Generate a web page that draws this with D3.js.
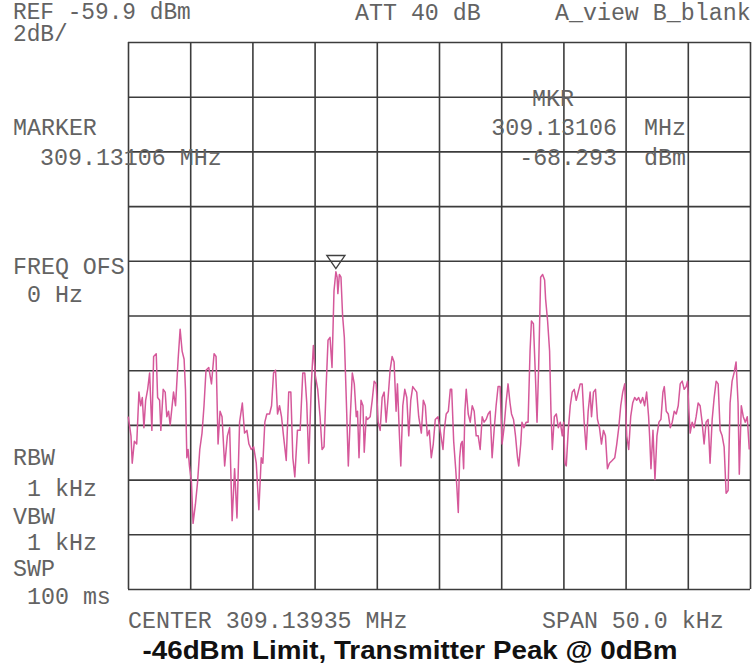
<!DOCTYPE html>
<html>
<head>
<meta charset="utf-8">
<script src="https://cdn.jsdelivr.net/npm/d3@7"></script>
<style>
  html, body { margin: 0; padding: 0; background: #ffffff; }
  svg { display: block; }
  .inst { font-family: "Liberation Mono", "DejaVu Sans Mono", monospace; font-size: 23.3px; fill: #636363; }
  .title { font-family: "Liberation Sans", Arial, sans-serif; font-weight: bold; font-size: 26.5px; fill: #111; }
</style>
</head>
<body>
<script>
// ---- Instrument settings ----
const refLevel = -59.9;        // dBm, top of screen
const dbPerDiv = 2;            // dB/div
const centerMHz = 309.13935;
const spanKHz = 50.0;
const markerMHz = 309.13106;
const markerDbm = -68.293;

// ---- Trace: frequency offset from center (kHz) and level (dBm) ----
const freqOffsetKHz = [
  -24.98,-24.76,-24.66,-24.49,-24.30,-24.12,-23.98,-23.85,-23.72,-23.58,-23.42,-23.26,-23.16,-23.08,-22.94,-22.73,
  -22.62,-22.46,-22.36,-22.17,-22.01,-21.88,-21.74,-21.61,-21.34,-21.18,-20.97,-20.81,-20.65,-20.49,-20.38,-20.27,
  -20.17,-20.06,-19.90,-19.77,-19.58,-19.41,-19.23,-19.05,-18.89,-18.73,-18.51,-18.29,-18.08,-17.92,-17.76,-17.60,
  -17.44,-17.23,-17.01,-16.83,-16.63,-16.43,-16.24,-16.03,-15.81,-15.63,-15.44,-15.28,-15.09,-14.90,-14.69,-14.48,
  -14.29,-14.16,-14.00,-13.84,-13.62,-13.46,-13.30,-13.14,-12.98,-12.82,-12.66,-12.50,-12.28,-12.08,-11.91,-11.75,
  -11.59,-11.38,-11.16,-10.95,-10.79,-10.63,-10.47,-10.26,-10.10,-9.94,-9.75,-9.56,-9.40,-9.24,-9.08,-8.92,
  -8.76,-8.60,-8.44,-8.29,-8.19,-8.13,-8.01,-7.88,-7.75,-7.61,-7.45,-7.29,-7.13,-6.97,-6.81,-6.65,
  -6.55,-6.43,-6.27,-6.11,-6.01,-5.85,-5.75,-5.53,-5.37,-5.21,-5.05,-4.89,-4.73,-4.57,-4.41,-4.25,
  -4.09,-3.93,-3.77,-3.61,-3.45,-3.34,-3.18,-3.07,-2.91,-2.75,-2.59,-2.43,-2.27,-2.11,-1.95,-1.79,
  -1.63,-1.42,-1.26,-1.10,-0.94,-0.78,-0.62,-0.46,-0.30,-0.08,0.16,0.32,0.42,0.58,0.75,0.91,
  1.02,1.18,1.34,1.44,1.55,1.66,1.76,1.87,1.98,2.08,2.19,2.35,2.51,2.67,2.83,2.99,
  3.15,3.31,3.47,3.63,3.79,3.95,4.11,4.27,4.43,4.59,4.75,4.91,5.07,5.23,5.39,5.55,
  5.71,5.83,5.99,6.15,6.31,6.41,6.57,6.67,6.83,7.00,7.16,7.32,7.43,7.59,7.75,7.88,
  8.01,8.17,8.33,8.49,8.57,8.73,8.89,9.00,9.11,9.27,9.43,9.59,9.75,9.91,10.02,10.12,
  10.23,10.39,10.55,10.71,10.87,11.03,11.19,11.35,11.51,11.67,11.83,11.99,12.15,12.26,12.42,12.58,
  12.74,12.90,13.06,13.22,13.38,13.54,13.70,13.92,14.13,14.29,14.45,14.61,14.77,14.93,15.09,15.25,
  15.41,15.57,15.73,15.89,16.05,16.21,16.37,16.53,16.69,16.85,16.93,17.04,17.20,17.36,17.52,17.68,
  17.84,18.00,18.11,18.27,18.43,18.59,18.75,18.91,19.07,19.23,19.39,19.55,19.71,19.87,19.98,20.09,
  20.19,20.35,20.51,20.67,20.83,20.99,21.15,21.31,21.47,21.63,21.79,21.96,22.12,22.28,22.44,22.60,
  22.76,22.92,23.08,23.24,23.40,23.56,23.72,23.88,24.04,24.14,24.30,24.46,24.62,24.78,24.94
];
const levelDbm = [
  -73.6,-74.3,-75.3,-74.5,-74.6,-72.7,-73.2,-72.9,-74.0,-73.0,-72.6,-72.0,-73.2,-74.1,-71.4,-71.3,
  -72.9,-73.0,-74.1,-72.6,-72.7,-73.6,-73.4,-73.9,-72.7,-73.2,-71.5,-70.4,-71.2,-71.5,-72.6,-75.1,
  -74.8,-75.4,-76.0,-77.5,-76.8,-76.0,-74.8,-74.2,-73.2,-71.9,-71.8,-72.4,-71.3,-71.4,-74.6,-73.4,
  -73.6,-75.4,-74.3,-74.0,-77.4,-75.5,-77.3,-73.8,-73.1,-74.2,-74.1,-74.6,-74.8,-74.7,-75.3,-77.0,
  -75.1,-75.3,-73.8,-73.5,-73.5,-73.2,-72.0,-71.9,-73.5,-73.2,-73.6,-74.3,-75.2,-72.7,-72.7,-75.1,
  -75.8,-74.1,-74.1,-72.0,-72.0,-73.1,-75.3,-72.4,-71.0,-72.1,-72.6,-73.6,-74.8,-74.7,-72.6,-70.8,
  -70.7,-71.8,-69.0,-68.3,-68.5,-69.1,-68.4,-68.5,-69.9,-70.7,-73.0,-75.4,-73.6,-72.0,-72.4,-73.6,
  -73.4,-75.1,-73.0,-73.2,-74.9,-73.6,-73.7,-73.6,-73.0,-72.3,-72.4,-73.8,-74.1,-72.9,-72.7,-73.8,
  -72.9,-71.9,-71.4,-71.6,-73.4,-72.4,-74.3,-75.4,-73.2,-72.6,-72.9,-74.3,-73.0,-72.5,-72.6,-72.7,
  -73.6,-74.2,-73.0,-73.2,-74.3,-74.1,-75.1,-74.6,-73.7,-73.6,-74.3,-74.8,-74.1,-73.5,-73.4,-72.6,
  -72.6,-74.5,-75.5,-76.2,-77.1,-75.1,-74.6,-74.5,-75.5,-73.4,-72.6,-73.5,-73.8,-73.2,-73.4,-74.3,
  -74.3,-74.8,-73.6,-73.8,-73.7,-73.5,-73.4,-75.1,-74.1,-73.2,-72.5,-72.5,-74.6,-74.0,-73.1,-72.4,
  -73.1,-73.5,-73.7,-74.3,-75.1,-75.4,-74.6,-73.8,-74.0,-73.8,-73.8,-71.2,-70.1,-70.2,-72.1,-73.8,
  -71.8,-68.5,-68.4,-68.6,-69.3,-70.1,-71.2,-73.4,-74.8,-73.6,-73.5,-74.0,-73.8,-74.3,-73.8,-75.3,
  -75.4,-74.1,-73.2,-72.7,-72.6,-73.0,-72.7,-72.4,-72.4,-73.8,-74.8,-73.4,-72.7,-73.6,-72.7,-72.6,
  -73.7,-74.0,-74.6,-74.1,-74.3,-75.5,-75.3,-75.2,-75.1,-74.6,-74.0,-73.2,-72.7,-72.4,-74.3,-74.8,
  -73.6,-73.1,-72.9,-73.0,-72.9,-73.1,-72.9,-73.2,-72.7,-73.6,-74.3,-75.5,-74.1,-75.9,-74.3,-73.8,
  -73.7,-72.7,-72.5,-73.4,-73.5,-74.0,-73.8,-73.4,-73.5,-73.2,-72.4,-72.3,-72.6,-72.5,-72.3,-73.4,
  -74.2,-73.8,-74.0,-73.6,-73.1,-73.2,-73.8,-74.6,-73.8,-73.7,-75.3,-73.7,-72.9,-72.3,-72.4,-74.1,
  -74.3,-74.7,-76.4,-76.3,-73.1,-72.3,-72.0,-71.6,-73.1,-75.7,-73.2,-73.6,-73.8,-73.6,-74.8
];

// ---- Annotation texts ----
const topTexts = ["REF -59.9 dBm", "2dB/", "ATT 40 dB", "A_view B_blank"];
const leftTexts = ["MARKER", "309.13106 MHz", "FREQ OFS", "0 Hz", "RBW", "1 kHz", "VBW", "1 kHz", "SWP", "100 ms"];
const mkrTexts = ["MKR", "309.13106", "MHz", "-68.293", "dBm"];
const bottomTexts = ["CENTER 309.13935 MHz", "SPAN 50.0 kHz"];
const titleText = "-46dBm Limit, Transmitter Peak @ 0dBm";

const W = 755, H = 669;
const plot = { left: 128, right: 750, top: 42, bottom: 589 };

const svg = d3.select("body").append("svg").attr("width", W).attr("height", H);
svg.append("rect").attr("width", W).attr("height", H).attr("fill", "#ffffff");

const x = d3.scaleLinear().domain([-spanKHz / 2, spanKHz / 2]).range([plot.left, plot.right]);
const y = d3.scaleLinear().domain([refLevel - 10 * dbPerDiv, refLevel]).range([plot.bottom, plot.top]);

const xTicks = d3.range(0, 11).map(i => -spanKHz / 2 + i * spanKHz / 10);
const yTicks = d3.range(0, 11).map(i => refLevel - i * dbPerDiv);

const gridColor = "#3c3c3c";
const gx = svg.append("g").attr("transform", `translate(0,${plot.bottom})`)
  .call(d3.axisBottom(x).tickValues(xTicks).tickSize(-(plot.bottom - plot.top)).tickFormat(""));
const gy = svg.append("g").attr("transform", `translate(${plot.left},0)`)
  .call(d3.axisLeft(y).tickValues(yTicks).tickSize(-(plot.right - plot.left)).tickFormat(""));
[gx, gy].forEach(g => {
  g.select(".domain").remove();
  g.selectAll(".tick line").attr("stroke", gridColor).attr("stroke-width", 1.6);
});

// trace
const pts = freqOffsetKHz.map((f, i) => [f, levelDbm[i]]);
svg.append("path")
  .datum(pts)
  .attr("fill", "none")
  .attr("stroke", "#d5589a")
  .attr("stroke-width", 1.5)
  .attr("stroke-linejoin", "round")
  .attr("d", d3.line().x(d => x(d[0])).y(d => y(d[1])));

// marker triangle
const mx = x((markerMHz - centerMHz) * 1000), my = y(markerDbm);
svg.append("path")
  .attr("d", `M${mx - 9},${my - 16} L${mx + 9},${my - 16} L${mx},${my - 3} Z`)
  .attr("fill", "none").attr("stroke", "#404040").attr("stroke-width", 1.4);

// text
function t(str, xx, yy, anchor, size) {
  svg.append("text").attr("class", "inst").attr("x", xx).attr("y", yy)
    .attr("text-anchor", anchor || "start")
    .style("font-size", size ? size + "px" : null)
    .attr("transform", `translate(${xx},${yy}) scale(1,1.05) translate(${-xx},${-yy})`)
    .text(str);
}
t(topTexts[0], 13, 19, "start", 22.8);
t(topTexts[1], 13, 41, "start", 22.8);
t(topTexts[2], 355, 20);
t(topTexts[3], 555, 20);

const leftPos = [[13, 135], [40, 165], [13, 274], [27, 302], [13, 465], [27, 496], [13, 524], [27, 550], [13, 576], [27, 604]];
leftTexts.forEach((s, i) => t(s, leftPos[i][0], leftPos[i][1]));

t(mkrTexts[0], 532, 106);
t(mkrTexts[1], 617, 135, "end");
t(mkrTexts[2], 644, 135);
t(mkrTexts[3], 617, 165, "end");
t(mkrTexts[4], 644, 165);

t(bottomTexts[0], 128, 628);
t(bottomTexts[1], 542, 628);

svg.append("text").attr("class", "title").attr("x", 410).attr("y", 659)
  .attr("text-anchor", "middle")
  .attr("textLength", 535).attr("lengthAdjust", "spacingAndGlyphs")
  .text(titleText);
</script>
</body>
</html>
